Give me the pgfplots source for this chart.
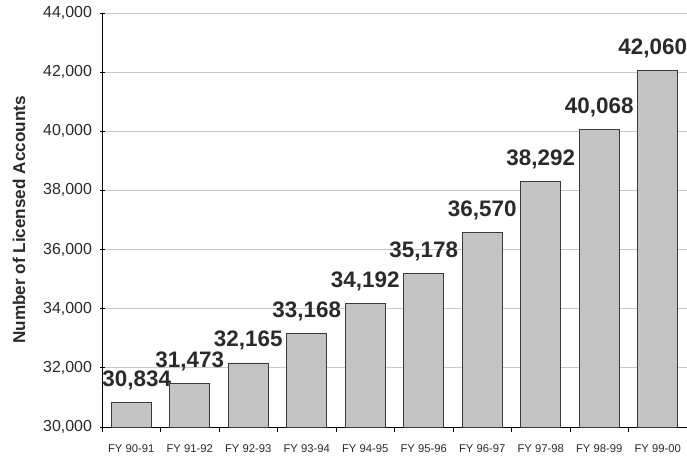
\documentclass[border=0pt]{standalone}
\usepackage{pgfplots}
\pgfplotsset{compat=1.18}
\usepackage{fontspec}
\setmainfont{Liberation Sans}

\definecolor{barfill}{HTML}{C3C3C3}
\definecolor{barline}{HTML}{3A3A3A}
\definecolor{gridgray}{HTML}{C8C8C8}
\definecolor{txt}{HTML}{2A2A2A}

% shift: horizontal nudge of the value label (keeps it clear of the edges)
\pgfplotstableread{
idx value shift
0 30834 5.5
1 31473 0
2 32165 0
3 33168 0
4 34192 0
5 35178 0
6 36570 0
7 38292 0
8 40068 0
9 42060 -5
}\accounts

\begin{document}
\begin{tikzpicture}
\useasboundingbox (0,0) rectangle (687bp,456bp);
\begin{axis}[
  at={(102bp,29bp)}, anchor=south west,
  scale only axis,
  width=585bp, height=414bp,
  xmin=-0.5, xmax=9.5,
  ymin=30000, ymax=44000,
  ytick={30000,32000,...,44000},
  xtick={0,...,9},
  xticklabels={FY 90-91,FY 91-92,FY 92-93,FY 93-94,FY 94-95,FY 95-96,FY 96-97,FY 97-98,FY 98-99,FY 99-00},
  minor xtick={-0.5,0.5,...,9.5},
  major x tick style={draw=none},
  minor x tick style={draw=black, line width=0.8bp},
  y tick style={draw=black, line width=0.8bp},
  major tick length=5bp, minor tick length=5bp,
  tick align=outside,
  axis lines=left,
  axis line style={-, draw=black, line width=0.8bp},
  ymajorgrids,
  grid style={gridgray, line width=0.8bp},
  scaled y ticks=false,
  /pgf/number format/assume math mode=true,
  /pgf/number format/fixed,
  /pgf/number format/precision=0,
  /pgf/number format/1000 sep={,},
  yticklabel style={font=\fontsize{16}{16}\selectfont, text=txt, xshift=-4bp},
  xticklabel style={font=\fontsize{11.3}{11.3}\selectfont, text=txt, yshift=-9bp},
  ylabel={\bfseries Number of Licensed Accounts},
  ylabel style={font=\fontsize{17.2}{18}\selectfont, text=txt, at={(-83bp,0.5)}, anchor=center},
  ybar, bar width=40bp,
  visualization depends on={\thisrow{shift} \as \lblshift},
  nodes near coords,
  nodes near coords style={font=\bfseries\fontsize{22.5}{23}\selectfont, text=txt, anchor=base, yshift=16bp, xshift=\lblshift bp, inner sep=0pt},
  clip=false,
]
\addplot[fill=barfill, draw=barline, line width=0.9bp] table[x=idx, y=value] {\accounts};
\end{axis}
\end{tikzpicture}
\end{document}
